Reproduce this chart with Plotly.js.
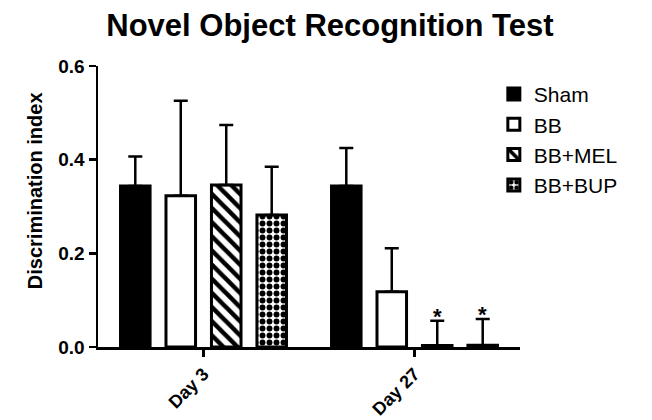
<!DOCTYPE html>
<html>
<head>
<meta charset="utf-8">
<script src="https://cdn.plot.ly/plotly-3.0.1.min.js"></script>
<style>html,body{margin:0;padding:0;background:#fff;}#chart{width:652px;height:420px;}</style>
</head>
<body>
<div id="chart"></div>
<script>
const categories = ["Day 3", "Day 27"];
const groups = ["Sham", "BB", "BB+MEL", "BB+BUP"];
const shamMean = [0.344, 0.344];
const shamErr = [0.063, 0.081];
const bbMean = [0.323, 0.118];
const bbErr = [0.203, 0.093];
const melMean = [0.346, 0.003];
const melErr = [0.128, 0.053];
const bupMean = [0.282, 0.004];
const bupErr = [0.103, 0.056];
const yTicks = [0, 0.2, 0.4, 0.6];
const yTickLabels = ["0.0", "0.2", "0.4", "0.6"];
const sigMarks = [
  {group: 2, cat: 1, text: "*"},
  {group: 3, cat: 1, text: "*"}
];

const FONT = "Liberation Sans, Arial, Helvetica, sans-serif";
const means = [shamMean, bbMean, melMean, bupMean];
const errs = [shamErr, bbErr, melErr, bupErr];
const styles = [
  {color: "#000000", pattern: {shape: ""}},
  {color: "#ffffff", pattern: {shape: ""}},
  {color: "#ffffff", pattern: {shape: "\\", fgcolor: "#000000", bgcolor: "#ffffff", size: 10, solidity: 0.45}},
  {color: "#ffffff", pattern: {shape: ".", fgcolor: "#000000", bgcolor: "#ffffff", size: 7, solidity: 0.55}}
];

const bargap = 0.138;
const traces = groups.map((g, i) => ({
  type: "bar",
  name: g,
  x: categories,
  y: means[i],
  marker: {
    color: styles[i].color,
    pattern: styles[i].pattern,
    line: {color: "#000000", width: 3}
  },
  error_y: {
    type: "data",
    symmetric: false,
    array: errs[i],
    arrayminus: errs[i].map(() => 0),
    color: "#000000",
    thickness: 2.5,
    width: 7
  },
  hoverinfo: "none"
}));

const slot = (1 - bargap) / groups.length;
const annotations = sigMarks.map(m => ({
  x: m.cat + (m.group - (groups.length - 1) / 2) * slot,
  y: means[m.group][m.cat] + errs[m.group][m.cat],
  xref: "x", yref: "y",
  text: "<b>" + m.text + "</b>",
  showarrow: false,
  yanchor: "middle",
  yshift: 4,
  font: {family: FONT, size: 22, color: "#000"}
}));
annotations.push({
  xref: "paper", yref: "paper",
  x: -0.149, y: 0.555,
  xanchor: "center", yanchor: "middle",
  textangle: -90,
  text: "<b>Discrimination index</b>",
  showarrow: false,
  font: {family: FONT, size: 20, color: "#000"}
});

const layout = {
  width: 652, height: 420,
  margin: {l: 98, r: 132, t: 66, b: 73},
  paper_bgcolor: "#fff", plot_bgcolor: "#fff",
  barmode: "group",
  bargap: bargap,
  bargroupgap: 0.35,
  title: {
    text: "<b>Novel Object Recognition Test</b>",
    x: 0.506, xref: "container", xanchor: "center",
    y: 0.94, yref: "container", yanchor: "middle",
    font: {family: FONT, size: 31, color: "#000"}
  },
  font: {family: FONT, color: "#000"},
  xaxis: {
    type: "category",
    range: [-0.5, 1.5],
    showline: true, linecolor: "#000", linewidth: 2.5,
    ticks: "outside", ticklen: 7, tickwidth: 2.5, tickcolor: "#000",
    tickangle: -45,
    tickfont: {family: FONT, size: 18, color: "#000", weight: "bold"},
    showgrid: false, zeroline: false, fixedrange: true
  },
  yaxis: {
    range: [0, 0.6],
    tickvals: yTicks, ticktext: yTickLabels,
    showline: true, linecolor: "#000", linewidth: 2.5,
    ticks: "outside", ticklen: 7, tickwidth: 2.5, tickcolor: "#000",
    tickfont: {family: FONT, size: 19, color: "#000", weight: "bold"},
    showgrid: false, zeroline: false, fixedrange: true
  },
  showlegend: true,
  legend: {
    x: 0.938, y: 0.972, xanchor: "left", yanchor: "top",
    traceorder: "normal",
    font: {family: FONT, size: 21, color: "#000"},
    bgcolor: "rgba(0,0,0,0)"
  },
  annotations: annotations
};

Plotly.newPlot("chart", traces, layout, {displayModeBar: false, staticPlot: true});
</script>
</body>
</html>
